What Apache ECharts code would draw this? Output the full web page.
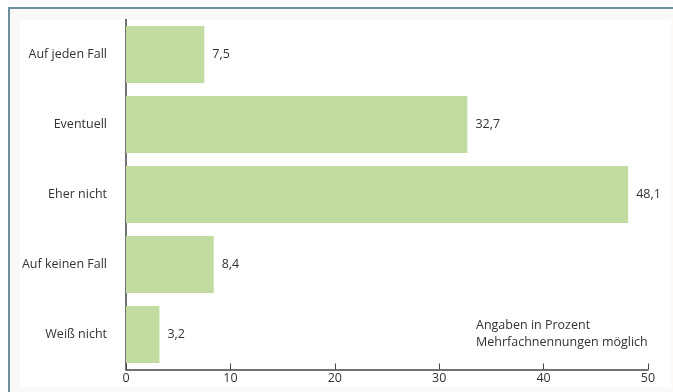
<!DOCTYPE html>
<html>
<head>
<meta charset="utf-8">
<script src="https://cdn.jsdelivr.net/npm/echarts@6/dist/echarts.min.js"></script>
<style>
html,body{margin:0;padding:0;background:#fff;}
#frame{position:absolute;left:8px;top:7px;width:665px;height:385px;background:#faf9f7;border-top:2px solid #6f8f9f;border-left:2px solid #6f8f9f;box-sizing:border-box;}
#inner{position:absolute;left:20px;top:20px;width:651px;height:367px;background:#fff;}
#chart{position:absolute;left:0;top:0;width:673px;height:392px;}
</style>
</head>
<body>
<div id="frame"></div>
<div id="inner"></div>
<div id="chart"></div>
<script>
const categories = ["Auf jeden Fall", "Eventuell", "Eher nicht", "Auf keinen Fall", "Weiß nicht"];
const values = [7.5, 32.7, 48.1, 8.4, 3.2];
const xTicks = [0, 10, 20, 30, 40, 50];
const noteLines = ["Angaben in Prozent", "Mehrfachnennungen möglich"];

const font = "'Open Sans', sans-serif";
const fs = 12.5;
const chart = echarts.init(document.getElementById('chart'), null, {renderer: 'canvas'});
chart.setOption({
  animation: false,
  backgroundColor: 'transparent',
  textStyle: {fontFamily: font},
  grid: {left: 126, right: 25, top: 19.5, bottom: 22.5, containLabel: false},
  xAxis: {
    type: 'value', min: xTicks[0], max: xTicks[xTicks.length - 1], interval: 10,
    axisLine: {show: true, lineStyle: {color: '#444', width: 1.5}},
    axisTick: {show: true, inside: true, length: 6, lineStyle: {color: '#444', width: 1}},
    axisLabel: {color: '#333', fontSize: fs, fontFamily: font, margin: 2},
    splitLine: {show: false}
  },
  yAxis: {
    type: 'category', data: categories, inverse: true,
    axisLine: {show: true, lineStyle: {color: '#444', width: 1.5}},
    axisTick: {show: false},
    axisLabel: {color: '#333', fontSize: fs, fontFamily: font, margin: 19}
  },
  series: [{
    type: 'bar', data: values, barCategoryGap: '18.6%',
    itemStyle: {color: '#c2dba0'},
    label: {show: true, position: 'right', distance: 8, color: '#333', fontSize: fs, fontFamily: font,
      formatter: p => String(p.value).replace('.', ',')}
  }],
  graphic: [{
    type: 'text', left: 476, top: 317,
    style: {text: noteLines.join('\n'), fill: '#333', fontSize: fs, fontFamily: font, lineHeight: 17}
  }]
});
</script>
</body>
</html>
